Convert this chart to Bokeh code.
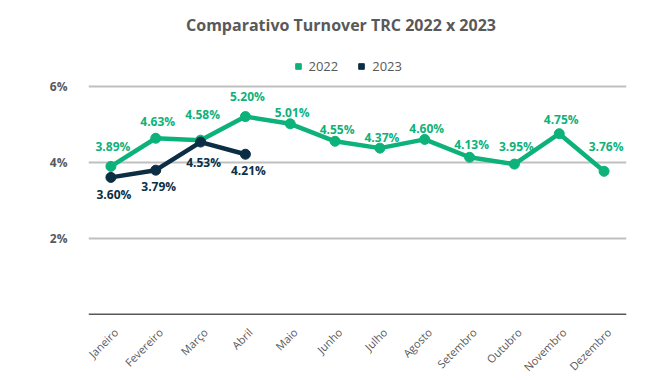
import math
from bokeh.plotting import figure
from bokeh.models import (ColumnDataSource, LabelSet, Label, Legend, LegendItem,
                          FixedTicker, Range1d, FactorRange, Span)
from bokeh.core.properties import value
from bokeh.embed import file_html
from bokeh.resources import INLINE

# ---- data ----
months = ["Janeiro", "Fevereiro", "Março", "Abril", "Maio", "Junho",
          "Julho", "Agosto", "Setembro", "Outubro", "Novembro", "Dezembro"]
rate_2022 = [3.89, 4.63, 4.58, 5.20, 5.01, 4.55, 4.37, 4.60, 4.13, 3.95, 4.75, 3.76]
months_2023 = ["Janeiro", "Fevereiro", "Março", "Abril"]
rate_2023 = [3.60, 3.79, 4.53, 4.21]
y_ticks = [2, 4, 6]
series_names = ["2022", "2023"]
title_text = "Comparativo Turnover TRC 2022 x 2023"

# ---- style ----
GREEN = "#0DB27A"
NAVY = "#0C2E44"
GRAY = "#595959"
FONT = "Open Sans"
# per-label vertical nudges (px) of the data labels, as placed in the original
label_nudge_2022 = [20, 17, 26, 20, 11, 12, 11, 11, 13, 18, 14, 25]
label_nudge_2023 = [-17, -16, -20, -16]

# layout constants (pixels)
W, H = 660, 378
FRAME_L, FRAME_R = 88, 626
ZERO_Y = 313.7          # screen y of the 0% baseline
PX_PER_PCT = 38.0       # pixels per percentage point

p = figure(width=W, height=H, output_backend="svg", toolbar_location=None,
           x_axis_location=None,
           x_range=FactorRange(*months, range_padding=0),
           y_range=Range1d(-(H - ZERO_Y) / PX_PER_PCT, ZERO_Y / PX_PER_PCT),
           min_border_left=FRAME_L, min_border_right=W - FRAME_R,
           min_border_top=0, min_border_bottom=0)

p.outline_line_color = None
p.background_fill_color = "white"
p.border_fill_color = "white"

# y axis
p.yaxis.ticker = FixedTicker(ticks=y_ticks)
p.yaxis.major_label_overrides = {t: f"{t}%" for t in y_ticks}
p.yaxis.axis_line_color = None
p.yaxis.major_tick_line_color = None
p.yaxis.minor_tick_line_color = None
p.yaxis.major_label_text_font = FONT
p.yaxis.major_label_text_font_style = "bold"
p.yaxis.major_label_text_font_size = "12px"
p.yaxis.major_label_text_color = GRAY
p.yaxis.major_label_standoff = 15

# grid + baseline
p.xgrid.grid_line_color = None
p.ygrid.ticker = FixedTicker(ticks=y_ticks)
p.ygrid.grid_line_color = "#BFBFBF"
p.ygrid.grid_line_width = 2
p.add_layout(Span(location=0, dimension="width", line_color=GRAY, line_width=1.5))

# rotated category labels under the baseline
xsrc = ColumnDataSource(dict(x=months, y=[0] * len(months), t=months))
p.add_layout(LabelSet(x="x", y="y", text="t", source=xsrc, angle=math.pi / 4,
                      x_offset=5, y_offset=-16, text_align="right",
                      text_baseline="middle", text_font=value(FONT),
                      text_font_size="11px", text_color=GRAY))

# series
src22 = ColumnDataSource(dict(x=months, y=rate_2022,
                              t=[f"{v:.2f}%" for v in rate_2022],
                              dy=label_nudge_2022))
src23 = ColumnDataSource(dict(x=months_2023, y=rate_2023,
                              t=[f"{v:.2f}%" for v in rate_2023],
                              dy=label_nudge_2023))

p.line("x", "y", source=src22, line_color=GREEN, line_width=4.5)
p.scatter("x", "y", source=src22, size=10, color=GREEN)
p.line("x", "y", source=src23, line_color=NAVY, line_width=4.5)
p.scatter("x", "y", source=src23, size=10, color=NAVY)

p.add_layout(LabelSet(x="x", y="y", text="t", source=src22, y_offset="dy",
                      x_offset=2, text_align="center", text_baseline="middle",
                      text_font=value(FONT), text_font_style="bold",
                      text_font_size="12px", text_color=GREEN))
p.add_layout(LabelSet(x="x", y="y", text="t", source=src23, y_offset="dy",
                      x_offset=3, text_align="center", text_baseline="middle",
                      text_font=value(FONT), text_font_style="bold",
                      text_font_size="12px", text_color=NAVY))

# title
p.add_layout(Label(x=340.5 - FRAME_L, y=H - 24, x_units="screen", y_units="screen",
                   text=title_text, text_align="center", text_baseline="middle",
                   text_font=FONT, text_font_style="bold",
                   text_font_size="16px", text_color=GRAY))

# legend (square swatches; zero-size markers so nothing shows in the plot)
sq22 = p.scatter(x=months[:1], y=rate_2022[:1], marker="square", size=0, color=GREEN)
sq23 = p.scatter(x=months_2023[:1], y=rate_2023[:1], marker="square", size=0, color=NAVY)
legend = Legend(items=[LegendItem(label=series_names[0], renderers=[sq22]),
                       LegendItem(label=series_names[1], renderers=[sq23])],
                orientation="horizontal", location=(290.5 - FRAME_L, H - 75),
                glyph_width=14, glyph_height=14, label_standoff=4, spacing=16,
                padding=0, margin=0, border_line_color=None,
                background_fill_alpha=0,
                label_text_font=FONT, label_text_font_size="13px",
                label_text_color=GRAY)
p.add_layout(legend)

open("out.html", "w").write(file_html(p, INLINE))
